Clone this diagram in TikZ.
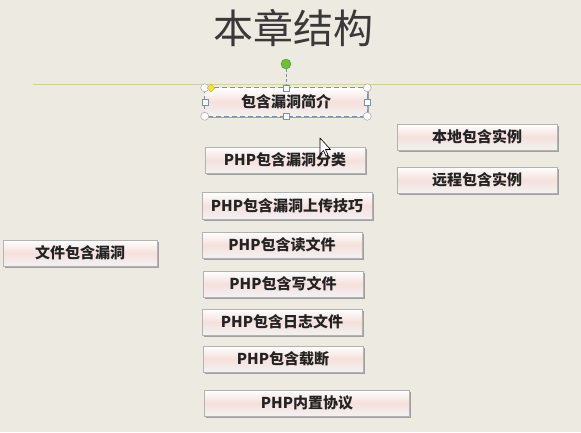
\documentclass[tikz,border=0pt]{standalone}
\usepackage{fontspec}
\newfontfamily\cjk{Noto Sans CJK SC}
\usetikzlibrary{shadows,shapes.geometric}
\definecolor{bgc}{RGB}{236,234,225}
\definecolor{pinkband}{RGB}{245,224,220}
\definecolor{txt}{RGB}{35,35,35}
\definecolor{rulec}{RGB}{215,205,165}
\definecolor{selc}{RGB}{120,145,175}
\tikzset{
  box/.style={rectangle, draw=gray!60, line width=0.5pt,
    top color=white, bottom color=gray!10, middle color=pinkband,
    drop shadow={shadow xshift=1.8pt, shadow yshift=-1.6pt, fill=gray!80, opacity=0.9},
    minimum height=26pt, inner sep=0pt, text=txt,
    font=\cjk\bfseries\fontsize{15}{17}\selectfont},
  handlec/.style={circle, draw=gray!70, fill=white, line width=0.5pt, minimum size=8pt, inner sep=0pt},
  handles/.style={rectangle, draw=selc, fill=white, line width=0.5pt, minimum size=6pt, inner sep=0pt},
}
\begin{document}
\begin{tikzpicture}[x=1pt,y=-1pt]
\fill[bgc] (0,0) rectangle (581,432);
\useasboundingbox (0,0) rectangle (581,432);
% title
\node[text=txt!90, font=\cjk\fontsize{40}{44}\selectfont] (title) at (293,28) {本章结构};
% rule
\coordinate (rl) at (33,84);
\coordinate (rr) at (581,84);
\draw[rulec, line width=1pt] (rl) -- (rr);
% boxes
\node[box, minimum width=162pt, minimum height=28pt, draw=none] (intro) at (286,102) {包含漏洞简介};
\node[box, minimum width=160pt] (local) at (477,137) {本地包含实例};
\node[box, minimum width=160pt] (class) at (285,160) {PHP包含漏洞分类};
\node[box, minimum width=160pt] (remote) at (477,180) {远程包含实例};
\node[box, minimum width=170pt, minimum height=27pt] (upload) at (287,206) {PHP包含漏洞上传技巧};
\node[box, minimum width=154pt] (main) at (80,253) {文件包含漏洞};
\node[box, minimum width=160pt] (read) at (282,245) {PHP包含读文件};
\node[box, minimum width=160pt] (write) at (283,284) {PHP包含写文件};
\node[box, minimum width=160pt] (log) at (282,322) {PHP包含日志文件};
\node[box, minimum width=160pt] (trunc) at (283,359) {PHP包含载断};
\node[box, minimum width=205pt] (proto) at (307,403) {PHP内置协议};
% selection of intro box
\draw[selc, dashed, line width=0.9pt, dash pattern=on 5pt off 3pt] (intro.north west) rectangle (intro.south east);
\node[circle, fill={rgb,255:red,110;green,190;blue,60}, draw={rgb,255:red,80;green,150;blue,40}, minimum size=10pt, inner sep=0pt] (rot) at (286,64) {};
\draw[selc, dashed, line width=0.8pt, dash pattern=on 3pt off 2pt] (rot.south) -- (intro.north);
\foreach \a/\n in {north west/hnw, north east/hne, south west/hsw, south east/hse}
  \node[handlec] (\n) at (intro.\a) {};
\foreach \a/\n in {north/hn, south/hs, west/hw, east/he}
  \node[handles] (\n) at (intro.\a) {};
\node[diamond, fill={rgb,255:red,250;green,225;blue,60}, draw={rgb,255:red,200;green,170;blue,40}, line width=0.4pt, minimum size=8pt, inner sep=0pt] (adj) at (211,88) {};
% cursor
\draw[fill=white, draw=black, line width=0.6pt, line join=round] (320,138) -- (320,154) -- (323.5,150.5) -- (326,156) -- (328,155) -- (325.5,149.5) -- (330.5,149.5) -- cycle;
\end{tikzpicture}
\end{document}
